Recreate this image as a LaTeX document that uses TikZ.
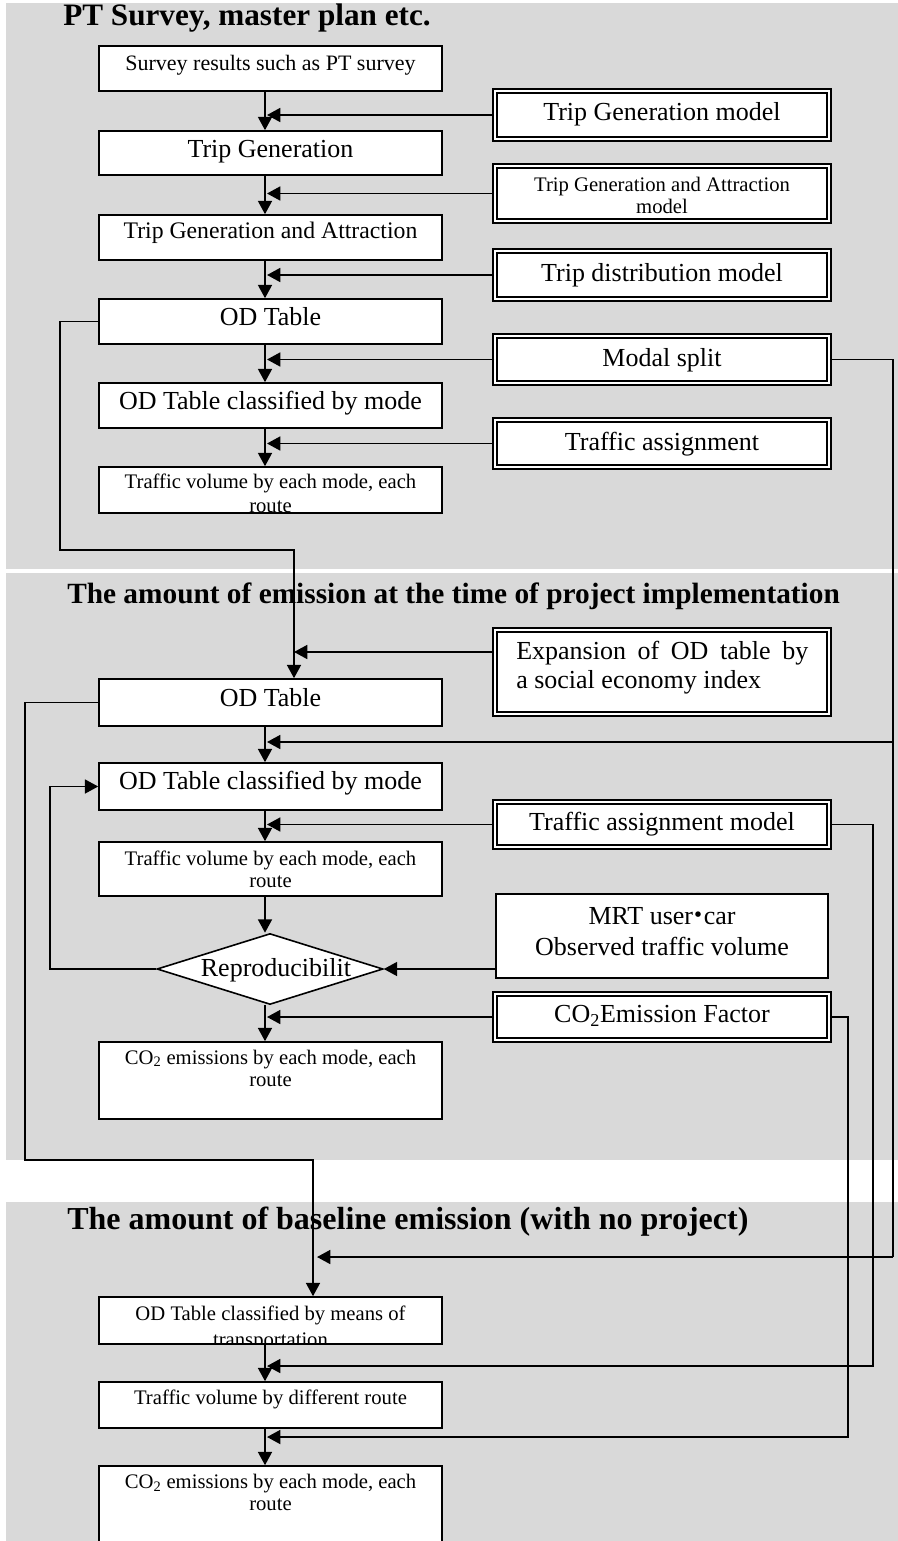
\documentclass[tikz,border=0pt]{standalone}
\usepackage{fontspec}
\setmainfont{Liberation Serif}
\newfontfamily\cjk{Noto Sans CJK JP}
\usetikzlibrary{arrows.meta,shapes.geometric,fit}
\definecolor{panel}{HTML}{D9D9D9}
\newcommand\Lg{\fontsize{19.5}{22}\selectfont}
\newcommand\Sm{\fontsize{15.5}{17.5}\selectfont}
\newcommand\twol[3]{\vtop{\baselineskip=#1\halign{\hfil##\hfil\cr#2\cr#3\cr}}}
\begin{document}
\begin{tikzpicture}[x=0.75pt,y=-0.75pt,
  conn/.style={line width=1.3pt},
  arr/.style={conn,-{Triangle[width=10.5pt,length=10pt]}},
  mbox/.style={draw,fill=white,line width=1.2pt,inner sep=0pt},
  dbox/.style={draw,double,double distance=1.2pt,line width=1.7pt,fill=white,inner sep=0pt},
  txt/.style={inner sep=0pt,anchor=base},
  ttl/.style={inner sep=0pt,anchor=base west}]
\useasboundingbox (0,0) rectangle (898,1541);
% panels
\fill[panel] (6,3) rectangle (898,569);
\fill[panel] (6,573) rectangle (898,1160);
\fill[panel] (6,1202) rectangle (898,1541);
% titles
\node[ttl,font=\fontsize{23.4}{28}\selectfont\bfseries] (T1) at (63,26) {PT Survey, master plan etc.};
\node[ttl,font=\fontsize{22}{26}\selectfont\bfseries] (T2) at (67,603) {The amount of emission at the time of project implementation};
\node[ttl,font=\fontsize{24}{28}\selectfont\bfseries] (T3) at (67,1229) {The amount of baseline emission (with no project)};
% main boxes
\node[mbox,fit={(99,46) (442,91)}] (B1) {};
\node[mbox,fit={(99,131) (442,175)}] (B2) {};
\node[mbox,fit={(99,215) (442,260)}] (B3) {};
\node[mbox,fit={(99,299) (442,344)}] (B4) {};
\node[mbox,fit={(99,383) (442,428)}] (B5) {};
\node[mbox,fit={(99,467) (442,513)}] (B6) {};
\node[mbox,fit={(99,679) (442,726)}] (A1) {};
\node[mbox,fit={(99,763) (442,810)}] (A2) {};
\node[mbox,fit={(99,842) (442,896)}] (A3) {};
\node[mbox,fit={(99,1042) (442,1119)}] (A4) {};
\node[mbox,fit={(99,1297) (442,1344)}] (C1) {};
\node[mbox,fit={(99,1382) (442,1428)}] (C2) {};
\node[mbox,fit={(99,1466) (442,1548)}] (C3) {};
\node[diamond,draw,fill=white,line width=1.2pt,inner sep=0pt,aspect=3.18,
  minimum width=169.5pt,minimum height=53.25pt] (D) at (270,969) {};
% model boxes
\node[dbox,fit={(495.2,91.2) (828.8,138.8)}] (M1) {};
\node[dbox,fit={(495.2,166.2) (828.8,220.8)}] (M2) {};
\node[dbox,fit={(495.2,251.2) (828.8,298.8)}] (M3) {};
\node[dbox,fit={(495.2,336.2) (828.8,382.8)}] (M4) {};
\node[dbox,fit={(495.2,420.2) (828.8,466.8)}] (M5) {};
\node[dbox,fit={(495.2,630.2) (828.8,713.8)}] (E) {};
\node[dbox,fit={(495.2,802.2) (828.8,846.8)}] (TA) {};
\node[dbox,fit={(495.2,994.2) (828.8,1039.8)}] (CF) {};
\node[mbox,fit={(496,894) (828,978)}] (MRT) {};
% texts
\node[txt,font=\fontsize{16.5}{19}\selectfont] (tB1) at (270.5,71) {Survey results such as PT survey};
\node[txt,font=\Lg] (tB2) at (270.5,157) {Trip Generation};
\node[txt,font=\fontsize{17.8}{21}\selectfont] (tB3) at (270.5,238) {Trip Generation and Attraction};
\node[txt,font=\Lg] (tB4) at (270.5,325) {OD Table};
\node[txt,font=\Lg] (tB5) at (270.5,409) {OD Table classified by mode};
\begin{scope}
\clip (B6.north west) rectangle (B6.south east);
\node[txt,font=\Sm] (tB6) at (270.5,488.3) {\twol{18.5pt}{Traffic volume by each mode, each}{route}};
\end{scope}
\node[txt,font=\Lg] (tM1) at (662,120.7) {Trip Generation model};
\node[txt,font=\Sm] (tM2) at (662,191.7) {\twol{16pt}{Trip Generation and Attraction}{model}};
\node[txt,font=\Lg] (tM3) at (662,281.7) {Trip distribution model};
\node[txt,font=\Lg] (tM4) at (662,366) {Modal split};
\node[txt,font=\Lg] (tM5) at (662,450) {Traffic assignment};
\node[txt,anchor=base west,font=\Lg] (tE) at (516,659.3) {\vtop{\baselineskip=21.75pt\hbox to 219pt{Expansion\hfill of\hfill OD\hfill table\hfill by}\hbox{a social economy index}}};
\node[txt,font=\Lg] (tA1) at (270.5,706) {OD Table};
\node[txt,font=\Lg] (tA2) at (270.5,789.3) {OD Table classified by mode};
\node[txt,font=\Lg] (tTA) at (662,830.7) {Traffic assignment model};
\node[txt,font=\Sm] (tA3) at (270.5,865) {\twol{16.5pt}{Traffic volume by each mode, each}{route}};
\node[txt,font=\Lg] (tMRT) at (662,924) {\twol{23.25pt}{MRT user\makebox[8pt]{\cjk ・}car}{Observed traffic volume}};
\node[txt,font=\Lg] (tD) at (276,976.7) {Reproducibilit};
\node[txt,font=\Lg] (tCF) at (662,1022.7) {CO\textsubscript{2}Emission Factor};
\node[txt,font=\Sm] (tA4) at (270.5,1064) {\twol{17pt}{CO\textsubscript{2} emissions by each mode, each}{route}};
\begin{scope}
\clip (C1.north west) rectangle (C1.south east);
\node[txt,font=\Sm] (tC1) at (270.5,1320) {\twol{19.5pt}{OD Table classified by means of}{transportation}};
\end{scope}
\node[txt,font=\Sm] (tC2) at (270.5,1404) {Traffic volume by different route};
\node[txt,font=\Sm] (tC3) at (270.5,1488.3) {\twol{17pt}{CO\textsubscript{2} emissions by each mode, each}{route}};
% helper coordinates
\coordinate (col) at (265,0);
\coordinate (colR) at (267,0);
\coordinate (colB) at (294,0);
\coordinate (colC) at (313,0);
\coordinate (colCR) at (317,0);
\coordinate (l1) at (60,550);
\coordinate (l2) at (25,1160);
\coordinate (lx3) at (50,0);
\coordinate (jM1) at (893,742);
\coordinate (jM2) at (893,1257);
\coordinate (jT) at (873,1366);
\coordinate (jC) at (848,1437);
% main flow panel 1
\draw[arr] (B1.south -| col) -- (B2.north -| col);
\draw[arr] (B2.south -| col) -- (B3.north -| col);
\draw[arr] (B3.south -| col) -- (B4.north -| col);
\draw[arr] (B4.south -| col) -- (B5.north -| col);
\draw[arr] (B5.south -| col) -- (B6.north -| col);
\draw[arr] (M1.west) -- (M1.west -| colR);
\draw[arr] (M2.west) -- (M2.west -| colR);
\draw[arr] (M3.west) -- (M3.west -| colR);
\draw[arr] (M4.west) -- (M4.west -| colR);
\draw[arr] (M5.west) -- (M5.west -| colR);
% panel 2
\draw[arr] (B4.west) -| (l1) -| (A1.north -| colB);
\draw[arr] ([yshift=15pt]E.west) -- ([yshift=15pt]E.west -| colB);
\draw[arr] (A1.south -| col) -- (A2.north -| col);
\draw[arr] (A2.south -| col) -- (A3.north -| col);
\draw[arr] (A3.south -| col) -- (D.north -| col);
\draw[arr] (D.south -| col) -- (A4.north -| col);
\draw[conn] (M4.east) -| (jM2);
\draw[arr] (jM1) -- (jM1 -| colR);
\draw[arr] (TA.west) -- (TA.west -| colR);
\draw[arr] (CF.west) -- (CF.west -| colR);
\draw[arr] (MRT.west |- D.east) -- (D.east);
\draw[arr] (D.west) -| (lx3 |- A2.west) -- (A2.west);
% panel 3
\draw[arr] (A1.west) -| (l2) -| (C1.north -| colC);
\draw[arr] (jM2) -- (jM2 -| colCR);
\draw[arr] (TA.east) -| (jT) -- (jT -| colR);
\draw[arr] (CF.east) -| (jC) -- (jC -| colR);
\draw[arr] (C1.south -| col) -- (C2.north -| col);
\draw[arr] (C2.south -| col) -- (C3.north -| col);
\end{tikzpicture}
\end{document}
